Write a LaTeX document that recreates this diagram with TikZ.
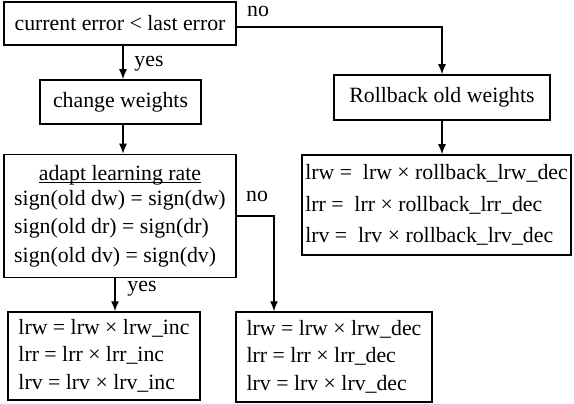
\documentclass[tikz,border=0pt]{standalone}
\usepackage{fontspec}
\setmainfont{Liberation Serif}
\usetikzlibrary{arrows.meta}
\newcommand\myul[1]{\setbox0\hbox{#1}\rlap{\rule[-2.5pt]{\wd0}{1pt}}\box0}
\begin{document}
\begin{tikzpicture}[x=1pt,y=-1pt,
  box/.style={draw, line width=1.5pt, inner sep=0pt, align=center},
  lbl/.style={inner sep=0pt, font=\fontsize{21.8}{26}\selectfont},
  arr/.style={line width=1.4pt, -{Latex[length=10pt,width=8pt]}},
]
\useasboundingbox (0,0) rectangle (574,404);
% boxes
\node[box, minimum width=232, minimum height=43, font=\fontsize{21.8}{26}\selectfont] (A) at (120,23.5) {current error < last error};
\node[box, minimum width=216, minimum height=45, font=\fontsize{21.8}{26}\selectfont] (B) at (442,97.5) {Rollback old weights};
\node[box, minimum width=269, minimum height=100, font=\fontsize{21.8}{31.5}\selectfont] (C) at (436.5,205)
  {\begin{tabular}{@{}l@{}}lrw = \ lrw × rollback\_lrw\_dec\\ lrr = \ lrr × rollback\_lrr\_dec\\ lrv = \ lrv × rollback\_lrv\_dec\end{tabular}};
\node[box, minimum width=161, minimum height=44, font=\fontsize{21.8}{26}\selectfont] (D) at (120.5,102) {change weights};
\node[box, minimum width=232, minimum height=123, font=\fontsize{21.8}{28.5}\selectfont] (E) at (120,216)
  {\begin{tabular}{@{}l@{}}\multicolumn{1}{@{}c@{}}{\myul{adapt learning rate}}\\[-4pt] sign(old dw) = sign(dw)\\ sign(old dr) = sign(dr)\\ sign(old dv) = sign(dv)\end{tabular}};
\node[box, minimum width=192, minimum height=88, font=\fontsize{21.8}{27.5}\selectfont] (F) at (104,356)
  {\begin{tabular}{@{}l@{}}lrw = lrw × lrw\_inc\\ lrr = lrr × lrr\_inc\\ lrv = lrv × lrv\_inc\end{tabular}};
\node[box, minimum width=196, minimum height=90, font=\fontsize{21.8}{27.5}\selectfont] (G) at (334,357)
  {\begin{tabular}{@{}l@{}}lrw = lrw × lrw\_dec\\ lrr = lrr × lrr\_dec\\ lrv = lrv × lrv\_dec\end{tabular}};
% labels
\node[lbl] (no1) at (258,11) {no};
\node[lbl] (yes1) at (149,64) {yes};
\node[lbl] (no2) at (257,196) {no};
\node[lbl] (yes2) at (142,289) {yes};
% connectors
\draw[arr] (A.east |- 0,27) -| (B.north);
\draw[arr] (B.south) -- (B.south |- C.north);
\draw[arr] (A.south -| 123,0) -- (D.north -| 123,0);
\draw[arr] (D.south -| 123,0) -- (E.north -| 123,0);
\draw[arr] (E.east) -| (G.north -| 274,0);
\draw[arr] (E.south -| 115,0) -- (F.north -| 115,0);
\end{tikzpicture}
\end{document}
